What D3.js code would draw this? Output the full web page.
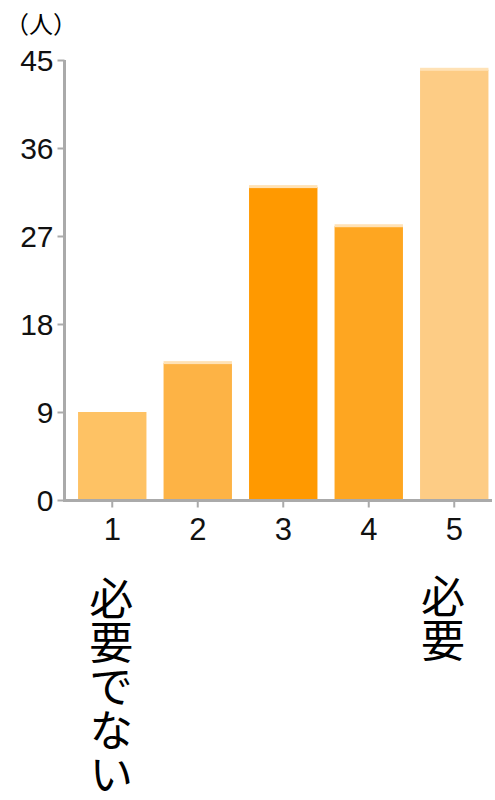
<!DOCTYPE html>
<html>
<head>
<meta charset="utf-8">
<script src="https://cdn.jsdelivr.net/npm/d3@7"></script>
<style>
  body { margin: 0; background: #fff; }
  text { font-family: "Liberation Sans", Arial, sans-serif; }
  .jp { font-family: "Noto Sans CJK JP", sans-serif; }
</style>
</head>
<body>
<div id="chart"></div>
<script>
// data
var categories = ["1", "2", "3", "4", "5"]
var counts = [9, 14, 32, 28, 44]
var bar_colours = ["#FEC264", "#FDB345", "#FF9900", "#FEA621", "#FDCC85"]
var y_ticks = [0, 9, 18, 27, 36, 45]
var unit_label = "（人）"
var low_label = "必要でない"
var high_label = "必要"

var width = 495, height = 800

var svg = d3.select("#chart")
  .append("svg")
    .attr("width", width)
    .attr("height", height)

var x = d3.scaleBand().domain(categories).range([69.5, 497]).paddingInner(0.2).paddingOuter(0.1)
var y = d3.scaleLinear().domain([0, 45]).range([500, 60])

// bars
svg.selectAll(".bar")
  .data(counts)
  .enter()
  .append("rect")
    .attr("class", "bar")
    .attr("x", function(d, i) { return x(categories[i]) })
    .attr("y", function(d) { return y(d) })
    .attr("width", x.bandwidth())
    .attr("height", function(d) { return y(0) - y(d) })
    .style("fill", function(d, i) { return bar_colours[i] })

// light strip on top of bars (not on the first one)
svg.selectAll(".cap")
  .data(counts.slice(1))
  .enter()
  .append("rect")
    .attr("x", function(d, i) { return x(categories[i + 1]) })
    .attr("y", function(d) { return y(d) - 2 })
    .attr("width", x.bandwidth())
    .attr("height", 3)
    .style("fill", "#FFE2B6")

// y axis
var yAxis = svg.append("g")
  .attr("transform", "translate(64.5,0)")
  .call(d3.axisLeft(y).tickValues(y_ticks).tickSize(7).tickPadding(4))
yAxis.select(".domain").attr("stroke", "#aaa").attr("stroke-width", 3)
  .attr("d", "M0,60V500")
yAxis.selectAll(".tick line").attr("stroke", "#aaa").attr("stroke-width", 2)
yAxis.selectAll(".tick text")
  .attr("font-size", 30).attr("fill", "#111")
  .attr("font-family", "Liberation Sans, Arial, sans-serif")
  .attr("dy", "0.36em")

// x axis
var xAxis = svg.append("g")
  .attr("transform", "translate(0,500.5)")
  .call(d3.axisBottom(x).tickSize(7).tickPadding(10))
xAxis.select(".domain").attr("stroke", "#aaa").attr("stroke-width", 3)
  .attr("d", "M63,0H492")
xAxis.selectAll(".tick line").attr("stroke", "#aaa").attr("stroke-width", 2)
xAxis.selectAll(".tick text")
  .attr("font-size", 31).attr("fill", "#111")
  .attr("font-family", "Liberation Sans, Arial, sans-serif")

// unit
svg.append("text")
  .attr("class", "jp")
  .attr("x", 5)
  .attr("y", 33)
  .attr("font-size", 24)
  .text(unit_label)

// scale end labels, vertical
svg.append("text")
  .attr("class", "jp")
  .attr("x", x("1") + x.bandwidth() / 2 - 1)
  .attr("y", 576)
  .attr("font-size", 44)
  .style("writing-mode", "vertical-rl")
  .text(low_label)

svg.append("text")
  .attr("class", "jp")
  .attr("x", 443)
  .attr("y", 574)
  .attr("font-size", 44)
  .style("writing-mode", "vertical-rl")
  .text(high_label)
</script>
</body>
</html>
